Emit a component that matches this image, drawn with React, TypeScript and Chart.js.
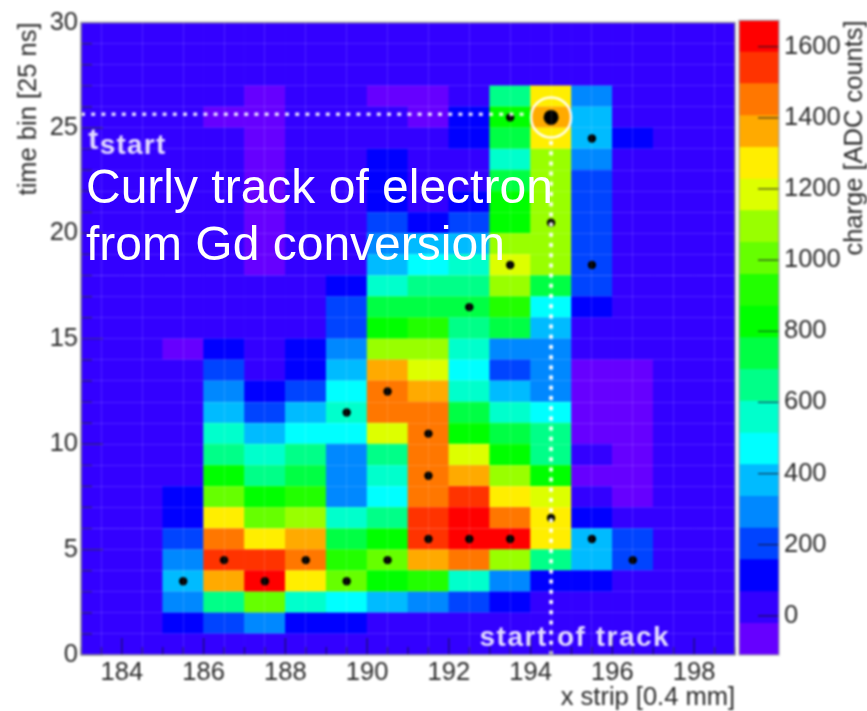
import React, { useEffect, useRef } from "react";
import { Chart, registerables } from "chart.js";

Chart.register(...registerables);

const FONT = '"Liberation Sans", Arial, sans-serif';
const TEXT = "#2a2a2a";
const LABEL_SIZE = 25.5;

// x strips (lower edge of each cell is strip - 0.5)
const strips = [183.5, 184.5, 185.5, 186.5, 187.5, 188.5, 189.5, 190.5, 191.5, 192.5, 193.5, 194.5, 195.5, 196.5, 197.5, 198.5];

// charge [ADC counts] per time bin, one value per strip
const t00 = [20, 20, 20, 20, 20, 20, 20, 20, 20, 20, 20, 20, 20, 20, 20, 20];
const t01 = [20, 20, 110, 200, 290, 110, 110, 20, 20, 20, 20, 20, 20, 20, 20, 20];
const t02 = [20, 20, 290, 650, 1000, 560, 470, 380, 290, 200, 110, 20, 20, 20, 20, 20];
const t03 = [20, 20, 380, 1360, 1630, 1270, 1000, 830, 920, 560, 290, 110, 110, 20, 20, 20];
const t04 = [20, 20, 290, 1540, 1540, 1450, 920, 1000, 1360, 1450, 1100, 650, 380, 200, 20, 20];
const t05 = [20, 20, 200, 1450, 1270, 1360, 740, 830, 1540, 1630, 1630, 1270, 380, 200, 20, 20];
const t06 = [20, 20, 110, 1270, 1000, 1100, 560, 650, 1540, 1630, 1450, 1270, 110, 20, 20, 20];
const t07 = [20, 20, 110, 1000, 830, 920, 290, 470, 1450, 1540, 1270, 1180, 20, -60, 20, 20];
const t08 = [20, 20, 20, 830, 650, 740, 290, 560, 1450, 1360, 1100, 830, -60, -60, 20, 20];
const t09 = [20, 20, 20, 650, 560, 650, 290, 650, 1450, 1180, 830, 650, 20, -60, 20, 20];
const t10 = [20, 20, 20, 560, 380, 470, 470, 1180, 1450, 830, 740, 650, -60, -60, 20, 20];
const t11 = [20, 20, 20, 380, 200, 380, 560, 1450, 1450, 740, 560, 470, -60, -60, 20, 20];
const t12 = [20, 20, 20, 290, 110, 200, 470, 1450, 1360, 560, 380, 290, -60, -60, 20, 20];
const t13 = [20, 20, 20, 200, 20, 110, 380, 1360, 1180, 470, 200, 290, -60, -60, 20, 20];
const t14 = [20, 20, -60, 110, 20, 110, 290, 1100, 1100, 560, 290, 290, 20, 20, 20, 20];
const t15 = [20, 20, 20, 20, 20, 20, 200, 830, 920, 650, 740, 380, 20, 20, 20, 20];
const t16 = [20, 20, 20, 20, 20, 20, 200, 740, 740, 740, 920, 470, 110, 20, 20, 20];
const t17 = [20, 20, 20, 20, 20, 20, 110, 560, 650, 650, 1100, 740, 200, 20, 20, 20];
const t18 = [20, 20, 20, 20, -60, 20, 20, 380, 470, 560, 1180, 1100, 200, 20, 20, 20];
const t19 = [20, 20, 20, 20, -60, 20, 20, 290, 380, 380, 1100, 1100, 200, 20, 20, 20];
const t20 = [20, 20, 20, 20, -60, 20, 20, 200, 110, 200, 830, 1100, 200, 20, 20, 20];
const t21 = [20, 20, 20, 20, -60, 20, 20, 110, 20, 110, 830, 1100, 200, 20, 20, 20];
const t22 = [20, 20, 20, 20, -60, 20, 20, 110, 20, 20, 740, 1100, 200, 20, 20, 20];
const t23 = [20, 20, 20, 20, -60, 20, 20, 110, 20, 20, 560, 1100, 290, 20, 20, 20];
const t24 = [20, 20, 20, 20, -60, 20, 20, 20, 20, 110, 740, 1270, 380, 110, 20, 20];
const t25 = [20, 20, 20, -60, -60, 20, 20, 20, -60, 110, 830, 1360, 380, 20, 20, 20];
const t26 = [20, 20, 20, 20, -60, 20, 20, -60, -60, 20, 650, 1270, 290, 20, 20, 20];
const t27 = [20, 20, 20, 20, 20, 20, 20, 20, 20, 20, 20, 20, 20, 20, 20, 20];
const t28 = [20, 20, 20, 20, 20, 20, 20, 20, 20, 20, 20, 20, 20, 20, 20, 20];
const t29 = [20, 20, 20, 20, 20, 20, 20, 20, 20, 20, 20, 20, 20, 20, 20, 20];
const chargeByBin = [t00, t01, t02, t03, t04, t05, t06, t07, t08, t09, t10, t11, t12, t13, t14, t15, t16, t17, t18, t19, t20, t21, t22, t23, t24, t25, t26, t27, t28, t29];

// colour scale
const levelEdges = [-110, -21, 68, 158, 247, 336, 425, 514, 604, 693, 782, 871, 960, 1050, 1139, 1228, 1317, 1406, 1496, 1585, 1674];
const levelColors = ["#6600ff", "#3300ff", "#0000ff", "#0044ff", "#0088ff", "#00bbff", "#00ffff", "#00ffcc", "#00ff88", "#00ff44", "#00ff00", "#22ff00", "#66ff00", "#99ff00", "#ddff00", "#ffee00", "#ffaa00", "#ff7700", "#ff3300", "#ff0000"];

// hit markers
const hitX = [185.5, 186.5, 187.5, 188.5, 189.5, 190.5, 191.5, 192.5, 193.5, 194.5, 195.5, 196.5, 191.5, 191.5, 190.5, 189.5, 192.5, 193.5, 195.5, 194.5, 195.5, 193.5];
const hitY = [3.5, 4.5, 3.5, 4.5, 3.5, 4.5, 5.5, 5.5, 5.5, 6.5, 5.5, 4.5, 8.5, 10.5, 12.5, 11.5, 16.5, 18.5, 18.5, 20.5, 24.5, 25.5];
const startHit = { x: 194.5, y: 25.5 };
const tStartLine = [{ x: 183, y: 25.65 }, { x: 193.9, y: 25.65 }];
const trackStartLine = [{ x: 194.5, y: 0 }, { x: 194.5, y: 24.5 }];

const colorFor = (v: number) => {
  for (let i = 0; i < levelColors.length; i++) if (v < levelEdges[i + 1]) return levelColors[i];
  return levelColors[levelColors.length - 1];
};

const mainPlugin = {
  id: "rootDecor",
  afterDatasetsDraw(chart: any) {
    const { ctx, chartArea: a, scales } = chart;
    const sx = scales.x, sy = scales.y;
    ctx.save();
    ctx.strokeStyle = "rgba(20,20,50,0.75)";
    ctx.lineWidth = 1.2;
    ctx.beginPath();
    for (let v = 183; v <= 199; v += 0.5) {
      const p = sx.getPixelForValue(v);
      ctx.moveTo(p, a.bottom);
      ctx.lineTo(p, a.bottom - (v % 2 === 0 ? 17 : 8));
    }
    for (let v = 0; v <= 30; v += 1) {
      const p = sy.getPixelForValue(v);
      ctx.moveTo(a.left, p);
      ctx.lineTo(a.left + (v % 5 === 0 ? 22 : 11), p);
    }
    ctx.stroke();
    ctx.strokeStyle = "#8a8a96";
    ctx.lineWidth = 1.5;
    ctx.strokeRect(a.left, a.top, a.right - a.left, a.bottom - a.top);

    ctx.fillStyle = "rgba(255,255,255,0.86)";
    ctx.textBaseline = "alphabetic";
    ctx.textAlign = "left";
    ctx.font = `bold 30px ${FONT}`;
    ctx.letterSpacing = "0px";
    ctx.fillText("t", sx.getPixelForValue(183.18), sy.getPixelForValue(24.0));
    ctx.font = `bold 28px ${FONT}`;
    ctx.letterSpacing = "1.2px";
    ctx.fillText("start", sx.getPixelForValue(183.46), sy.getPixelForValue(23.75));
    ctx.letterSpacing = "1.5px";
    ctx.fillText("start of track", sx.getPixelForValue(192.75), sy.getPixelForValue(0.42));
    ctx.restore();
  },
};

const barPlugin = {
  id: "barDecor",
  afterDatasetsDraw(chart: any) {
    const { ctx, chartArea: a, scales } = chart;
    const sy = scales.y;
    ctx.save();
    ctx.strokeStyle = "rgba(20,20,40,0.75)";
    ctx.lineWidth = 1.2;
    ctx.beginPath();
    for (let v = 0; v <= 1600; v += 200) {
      const p = sy.getPixelForValue(v);
      ctx.moveTo(a.right, p);
      ctx.lineTo(a.right - 21, p);
    }
    ctx.stroke();
    ctx.strokeStyle = "#a0a0a8";
    ctx.lineWidth = 1.2;
    ctx.strokeRect(a.left, a.top, a.right - a.left, a.bottom - a.top);
    ctx.translate(125, a.top);
    ctx.rotate(-Math.PI / 2);
    ctx.fillStyle = TEXT;
    ctx.font = `25.5px ${FONT}`;
    ctx.textAlign = "right";
    ctx.textBaseline = "middle";
    ctx.fillText("charge [ADC counts]", 0, 0);
    ctx.restore();
  },
};

export default function App() {
  const mainRef = useRef<HTMLCanvasElement>(null);
  const barRef = useRef<HTMLCanvasElement>(null);

  useEffect(() => {
    const cells = chargeByBin.map((row, t) => ({
      type: "bar" as const,
      data: row.map((v, i) => ({ x: strips[i], y: [t, t + 1] })),
      backgroundColor: row.map(colorFor),
      borderWidth: 0,
      grouped: false,
      barPercentage: 1,
      categoryPercentage: 1,
      order: 5,
    }));
    const main = new Chart(mainRef.current!, {
      type: "bar",
      data: {
        datasets: [
          {
            type: "line",
            data: tStartLine,
            borderColor: "rgba(255,255,255,0.85)",
            borderWidth: 3.6,
            borderDash: [4, 6.2],
            pointRadius: 0,
            order: 1,
          },
          {
            type: "line",
            data: trackStartLine,
            borderColor: "rgba(255,255,255,0.95)",
            borderWidth: 3.8,
            borderDash: [4, 6.2],
            pointRadius: 0,
            order: 1,
          },
          {
            type: "scatter",
            data: hitX.map((x, i) => ({ x, y: hitY[i] })),
            backgroundColor: "#000",
            borderWidth: 0,
            pointRadius: 4.2,
            order: 2,
          },
          {
            type: "scatter",
            data: [startHit],
            backgroundColor: "#000",
            borderWidth: 0,
            pointRadius: 7.5,
            order: 2,
          },
          {
            type: "scatter",
            data: [startHit],
            backgroundColor: "rgba(0,0,0,0)",
            borderColor: "rgba(255,255,255,0.95)",
            borderWidth: 2.5,
            pointRadius: 20,
            order: 2,
          },
          ...cells,
        ] as any,
      },
      options: {
        animation: false,
        responsive: false,
        layout: { padding: { left: 0, top: 19, right: 132, bottom: 0 } },
        plugins: { legend: { display: false }, tooltip: { enabled: false } },
        scales: {
          x: {
            type: "linear",
            min: 183,
            max: 199,
            offset: false,
            afterFit(s: any) { s.height = 56; },
            border: { display: false },
            grid: { color: "rgba(255,255,255,0.13)", lineWidth: 1, drawTicks: false, z: 1 },
            ticks: {
              stepSize: 1,
              autoSkip: false,
              maxRotation: 0,
              padding: 3,
              color: TEXT,
              font: { family: FONT, size: LABEL_SIZE },
              callback: (v: any) => (v % 2 === 0 && v > 183 && v < 199 ? String(v) : ""),
            },
            title: { display: true, text: "x strip [0.4 mm]", align: "end", color: TEXT, font: { family: FONT, size: LABEL_SIZE, lineHeight: 1 }, padding: { top: 0, bottom: 0 } },
          },
          y: {
            type: "linear",
            min: 0,
            max: 30,
            afterFit(s: any) { s.width = 81; },
            border: { display: false },
            grid: { color: "rgba(255,255,255,0.13)", lineWidth: 1, drawTicks: false, z: 1 },
            ticks: {
              stepSize: 1,
              autoSkip: false,
              padding: 3,
              color: TEXT,
              font: { family: FONT, size: LABEL_SIZE },
              callback: (v: any) => (v % 5 === 0 ? String(v) : ""),
            },
            title: { display: true, text: "time bin [25 ns]", align: "end", color: TEXT, font: { family: FONT, size: LABEL_SIZE, lineHeight: 1 }, padding: { top: 16, bottom: 0 } },
          },
        },
      } as any,
      plugins: [mainPlugin],
    });

    const bar = new Chart(barRef.current!, {
      type: "bar",
      data: {
        labels: ["charge"],
        datasets: levelColors.map((c, i) => ({
          data: [[levelEdges[i], levelEdges[i + 1]]],
          backgroundColor: c,
          borderWidth: 0,
          grouped: false,
          barPercentage: 1,
          categoryPercentage: 1,
        })) as any,
      },
      options: {
        animation: false,
        responsive: false,
        layout: { padding: { left: 9, top: 20, right: 0, bottom: 56 } },
        plugins: { legend: { display: false }, tooltip: { enabled: false } },
        scales: {
          x: { display: false },
          y: {
            type: "linear",
            position: "right",
            min: -110,
            max: 1674,
            afterFit(s: any) { s.width = 88; },
            border: { display: false },
            grid: { display: false, drawTicks: false },
            ticks: {
              stepSize: 200,
              padding: 5,
              color: TEXT,
              font: { family: FONT, size: LABEL_SIZE },
              callback: (v: any) => (v >= 0 && v % 200 === 0 ? String(v) : ""),
            },
            afterBuildTicks(s: any) {
              s.ticks = [0, 200, 400, 600, 800, 1000, 1200, 1400, 1600].map((value) => ({ value }));
            },
          },
        },
      } as any,
      plugins: [barPlugin],
    });

    return () => {
      main.destroy();
      bar.destroy();
    };
  }, []);

  const blur = "blur(0.8px)";
  const line: React.CSSProperties = { position: "absolute", left: 86, color: "#fff", font: `48px ${FONT}`, lineHeight: "57px", whiteSpace: "nowrap" };
  return (
    <div style={{ position: "absolute", left: 0, top: 0, width: 867, height: 711, overflow: "hidden", background: "#fff" }}>
      <canvas ref={mainRef} width={867} height={711} style={{ position: "absolute", left: 0, top: 0, width: 867, height: 711, filter: blur }} />
      <canvas ref={barRef} width={137} height={711} style={{ position: "absolute", left: 730, top: 0, width: 137, height: 711, filter: blur }} />
      <div style={{ ...line, top: 158 }}>Curly track of electron</div>
      <div style={{ ...line, top: 215 }}>from Gd conversion</div>
    </div>
  );
}
